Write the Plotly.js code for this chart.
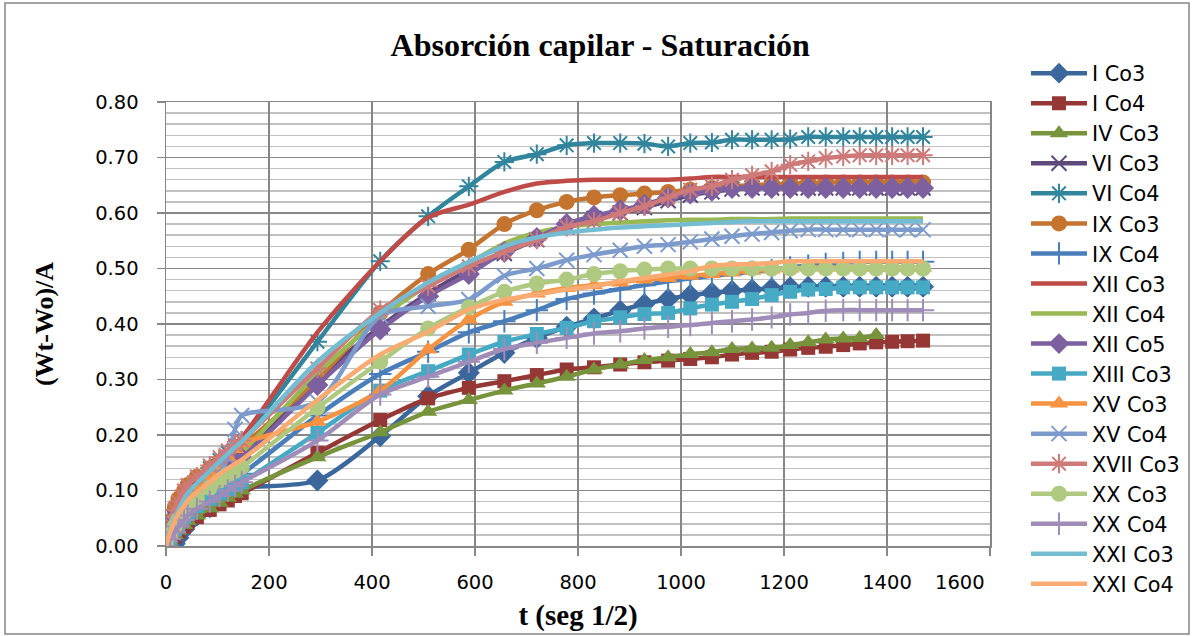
<!DOCTYPE html>
<html>
<head>
<meta charset="utf-8">
<script src="https://cdn.plot.ly/plotly-3.0.1.min.js"></script>
<style>
  html, body { margin: 0; padding: 0; background: #ffffff; }
  #chart { width: 1192px; height: 636px; }
</style>
</head>
<body>
<div id="chart"></div>
<script>
// t (seg 1/2): square root of elapsed seconds
const tSeg = [0, 8, 17, 24, 35, 42, 60, 85, 104, 120, 134, 147, 294, 416, 509, 588, 657, 720, 778, 831, 882, 929, 975, 1018, 1060, 1099, 1138, 1176, 1212, 1247, 1281, 1315, 1347, 1379, 1410, 1440, 1470];

const xTickVals = [0, 200, 400, 600, 800, 1000, 1200, 1400, 1600];
const xTickText = ["0", "200", "400", "600", "800", "1000", "1200", "1400", ""];
const lastXTickLabel = "1600";

const seriesNames = ["I Co3", "I Co4", "IV Co3", "VI Co3", "VI Co4", "IX Co3", "IX Co4", "XII Co3", "XII Co4", "XII Co5", "XIII Co3", "XV Co3", "XV Co4", "XVII Co3", "XX Co3", "XX Co4", "XXI Co3", "XXI Co4"];

const I_Co3 = [0, 0, 0.004, 0.015, 0.03, 0.04, 0.055, 0.07, 0.082, 0.09, 0.097, 0.104, 0.118, 0.198, 0.27, 0.312, 0.348, 0.375, 0.395, 0.41, 0.424, 0.436, 0.445, 0.452, 0.456, 0.46, 0.462, 0.464, 0.466, 0.467, 0.467, 0.467, 0.467, 0.467, 0.467, 0.467, 0.467];
const I_Co4 = [0, 0.005, 0.017, 0.025, 0.035, 0.042, 0.052, 0.065, 0.075, 0.082, 0.09, 0.095, 0.168, 0.227, 0.266, 0.285, 0.297, 0.308, 0.318, 0.322, 0.327, 0.331, 0.334, 0.337, 0.34, 0.345, 0.348, 0.35, 0.354, 0.357, 0.359, 0.362, 0.365, 0.367, 0.368, 0.369, 0.37];
const IV_Co3 = [0, 0.008, 0.02, 0.028, 0.038, 0.045, 0.055, 0.068, 0.078, 0.087, 0.094, 0.1, 0.16, 0.205, 0.242, 0.263, 0.28, 0.293, 0.305, 0.318, 0.327, 0.335, 0.34, 0.346, 0.349, 0.355, 0.356, 0.357, 0.362, 0.367, 0.372, 0.374, 0.375, 0.38, null, null, null];
const VI_Co3 = [0, 0.03, 0.05, 0.06, 0.075, 0.085, 0.1, 0.12, 0.135, 0.145, 0.155, 0.162, 0.30, 0.395, 0.455, 0.497, 0.527, 0.552, 0.575, 0.59, 0.60, 0.61, 0.622, 0.632, 0.638, 0.643, 0.645, 0.645, 0.645, 0.645, 0.645, 0.645, 0.645, 0.645, 0.645, 0.645, 0.645];
const VI_Co4 = [0, 0.03, 0.055, 0.07, 0.09, 0.1, 0.12, 0.14, 0.155, 0.168, 0.18, 0.19, 0.368, 0.513, 0.594, 0.648, 0.692, 0.706, 0.722, 0.726, 0.726, 0.725, 0.72, 0.726, 0.727, 0.732, 0.732, 0.732, 0.733, 0.737, 0.737, 0.737, 0.737, 0.737, 0.737, 0.737, 0.737];
const IX_Co3 = [0, 0.045, 0.07, 0.085, 0.1, 0.11, 0.125, 0.14, 0.152, 0.162, 0.172, 0.18, 0.30, 0.42, 0.49, 0.534, 0.58, 0.605, 0.62, 0.628, 0.632, 0.635, 0.638, 0.642, 0.645, 0.648, 0.65, 0.652, 0.653, 0.654, 0.655, 0.655, 0.655, 0.655, 0.655, 0.655, 0.655];
const IX_Co4 = [0, 0.02, 0.035, 0.045, 0.058, 0.066, 0.08, 0.095, 0.108, 0.118, 0.125, 0.13, 0.235, 0.31, 0.35, 0.385, 0.405, 0.425, 0.445, 0.455, 0.463, 0.47, 0.477, 0.482, 0.487, 0.49, 0.494, 0.497, 0.502, 0.505, 0.508, 0.51, 0.512, 0.512, 0.512, 0.512, 0.512];
const XII_Co3 = [0, 0.03, 0.055, 0.07, 0.09, 0.1, 0.12, 0.14, 0.158, 0.172, 0.185, 0.195, 0.385, 0.513, 0.592, 0.615, 0.638, 0.653, 0.658, 0.66, 0.66, 0.66, 0.66, 0.662, 0.665, 0.665, 0.665, 0.665, 0.665, 0.665, 0.665, 0.665, 0.665, 0.665, 0.665, 0.665, 0.665];
const XII_Co4 = [0, 0.025, 0.045, 0.058, 0.075, 0.085, 0.1, 0.12, 0.135, 0.148, 0.158, 0.168, 0.31, 0.41, 0.47, 0.51, 0.545, 0.565, 0.575, 0.58, 0.583, 0.585, 0.587, 0.588, 0.588, 0.589, 0.589, 0.589, 0.59, 0.59, 0.59, 0.59, 0.59, 0.59, 0.59, 0.59, 0.59];
const XII_Co5 = [0, 0.025, 0.045, 0.058, 0.072, 0.082, 0.097, 0.115, 0.13, 0.14, 0.15, 0.158, 0.29, 0.39, 0.45, 0.49, 0.53, 0.555, 0.58, 0.595, 0.605, 0.615, 0.628, 0.635, 0.64, 0.645, 0.645, 0.645, 0.645, 0.645, 0.645, 0.645, 0.645, 0.645, 0.645, 0.645, 0.645];
const XIII_Co3 = [0, 0.015, 0.03, 0.04, 0.052, 0.06, 0.072, 0.085, 0.095, 0.103, 0.11, 0.115, 0.204, 0.28, 0.315, 0.345, 0.368, 0.382, 0.393, 0.405, 0.412, 0.418, 0.42, 0.428, 0.435, 0.44, 0.445, 0.452, 0.458, 0.462, 0.463, 0.466, 0.466, 0.466, 0.466, 0.466, 0.466];
const XV_Co3 = [0, 0.02, 0.04, 0.055, 0.07, 0.08, 0.1, 0.125, 0.145, 0.16, 0.175, 0.185, 0.224, 0.28, 0.354, 0.408, 0.44, 0.455, 0.465, 0.47, 0.475, 0.48, 0.483, 0.487, 0.49, 0.493, 0.496, 0.498, 0.50, 0.502, 0.502, 0.502, 0.502, 0.502, 0.502, 0.502, 0.502];
const XV_Co4 = [0, 0.02, 0.04, 0.05, 0.065, 0.075, 0.09, 0.11, 0.13, 0.16, 0.21, 0.235, 0.26, 0.415, 0.432, 0.444, 0.487, 0.50, 0.515, 0.525, 0.533, 0.54, 0.543, 0.548, 0.553, 0.558, 0.562, 0.565, 0.568, 0.57, 0.57, 0.57, 0.57, 0.57, 0.57, 0.57, 0.57];
const XVII_Co3 = [0, 0.04, 0.065, 0.08, 0.1, 0.11, 0.125, 0.145, 0.16, 0.172, 0.182, 0.19, 0.32, 0.425, 0.468, 0.504, 0.53, 0.552, 0.575, 0.585, 0.60, 0.612, 0.628, 0.642, 0.648, 0.66, 0.668, 0.675, 0.687, 0.693, 0.699, 0.702, 0.704, 0.704, 0.704, 0.704, 0.704];
const XX_Co3 = [0, 0.02, 0.035, 0.047, 0.06, 0.07, 0.085, 0.105, 0.118, 0.128, 0.135, 0.142, 0.249, 0.332, 0.392, 0.43, 0.458, 0.473, 0.48, 0.49, 0.495, 0.498, 0.50, 0.50, 0.50, 0.50, 0.50, 0.50, 0.50, 0.50, 0.50, 0.50, 0.50, 0.50, 0.50, 0.50, 0.50];
const XX_Co4 = [0, 0.012, 0.025, 0.035, 0.047, 0.055, 0.067, 0.08, 0.09, 0.1, 0.108, 0.115, 0.19, 0.273, 0.305, 0.332, 0.355, 0.366, 0.375, 0.383, 0.387, 0.392, 0.395, 0.398, 0.402, 0.405, 0.408, 0.412, 0.417, 0.42, 0.424, 0.425, 0.425, 0.425, 0.425, 0.425, 0.425];
const XXI_Co3 = [0, 0.03, 0.05, 0.065, 0.085, 0.095, 0.113, 0.135, 0.152, 0.166, 0.178, 0.188, 0.332, 0.42, 0.475, 0.512, 0.54, 0.556, 0.565, 0.57, 0.574, 0.576, 0.578, 0.58, 0.582, 0.584, 0.585, 0.585, 0.585, 0.585, 0.585, 0.585, 0.585, 0.585, 0.585, 0.585, 0.585];
const XXI_Co4 = [0, 0.025, 0.045, 0.058, 0.072, 0.082, 0.097, 0.115, 0.13, 0.14, 0.148, 0.155, 0.263, 0.345, 0.386, 0.426, 0.444, 0.453, 0.462, 0.468, 0.477, 0.483, 0.489, 0.495, 0.505, 0.507, 0.508, 0.51, 0.513, 0.513, 0.513, 0.513, 0.513, 0.513, 0.513, 0.513, 0.513];

const seriesValues = [I_Co3, I_Co4, IV_Co3, VI_Co3, VI_Co4, IX_Co3, IX_Co4, XII_Co3, XII_Co4, XII_Co5, XIII_Co3, XV_Co3, XV_Co4, XVII_Co3, XX_Co3, XX_Co4, XXI_Co3, XXI_Co4];

const seriesColors = ["#3C679C", "#953735", "#77933C", "#5F497A", "#31859C", "#C5742F", "#4A7EBB", "#BE4B48", "#98B954", "#7D60A0", "#46AAC5", "#F69240", "#7C9BCC", "#CE7A78", "#AFCA80", "#A08CB8", "#73BCD2", "#F9AB72"];
const seriesSymbols = ["diamond", "square", "triangle-up", "x-thin-open", "asterisk-open", "circle", "cross-thin-open", null, null, "diamond", "square", "triangle-up", "x-thin-open", "asterisk-open", "circle", "cross-thin-open", null, null];
const symbolSizes = {"diamond": 17, "square": 14, "triangle-up": 16, "x-thin-open": 15, "asterisk-open": 16, "circle": 16, "cross-thin-open": 16};

const traces = seriesNames.map((name, i) => {
  const sym = seriesSymbols[i];
  const col = seriesColors[i];
  const tr = {
    type: "scatter",
    x: tSeg,
    y: seriesValues[i],
    name: name,
    legendgroup: "g" + i,
    mode: sym ? "lines+markers" : "lines",
    line: {color: col, width: 4.5, shape: "spline", smoothing: 0.8},
    connectgaps: false,
    hoverinfo: "x+y+name"
  };
  if (sym) {
    const thin = sym.indexOf("-open") >= 0;
    tr.marker = {
      symbol: sym,
      size: symbolSizes[sym],
      color: col,
      line: {color: col, width: thin ? 2 : 0}
    };
  }
  return tr;
});

const font = "'DejaVu Sans', 'Open Sans', sans-serif";
const serif = "'Liberation Serif', 'DejaVu Serif', serif";

const layout = {
  width: 1192,
  height: 636,
  margin: {l: 166, r: 202, t: 102, b: 90, pad: 0, autoexpand: false},
  paper_bgcolor: "#ffffff",
  plot_bgcolor: "#ffffff",
  showlegend: true,
  title: {
    text: "<b>Absorción capilar - Saturación</b>",
    font: {family: serif, size: 32, color: "#000000"},
    x: 0.5035, xanchor: "center", xref: "container",
    y: 0.93, yanchor: "middle", yref: "container"
  },
  xaxis: {
    range: [0, 1600],
    tickmode: "array", tickvals: xTickVals, ticktext: xTickText,
    automargin: false,
    showgrid: true, gridcolor: "#878787", gridwidth: 1.5,
    zeroline: false,
    showline: true, linecolor: "#878787", linewidth: 1.5, mirror: true,
    ticks: "outside", ticklen: 8, tickcolor: "#878787", tickwidth: 1.5,
    ticklabelstandoff: 10,
    tickfont: {family: font, size: 19.5, color: "#000000"},
    title: {text: "<b>t (seg 1/2)</b>", font: {family: serif, size: 29, color: "#000000"}, standoff: 12}
  },
  yaxis: {
    range: [0, 0.8],
    tick0: 0, dtick: 0.1, tickformat: ".2f",
    automargin: false,
    showgrid: true, gridcolor: "#878787", gridwidth: 1.5,
    minor: {dtick: 0.02, showgrid: true, gridcolor: "#C0C0C0", gridwidth: 1.5, ticks: ""},
    zeroline: false,
    showline: true, linecolor: "#878787", linewidth: 1.5, mirror: true,
    ticks: "outside", ticklen: 8, tickcolor: "#878787", tickwidth: 1.5,
    ticklabelstandoff: 14,
    tickfont: {family: font, size: 19.5, color: "#000000"},
    title: {text: "<b>(Wt-Wo)/A</b>", font: {family: serif, size: 26, color: "#000000"}, standoff: 34}
  },
  legend: {
    x: (1026 - 166) / 824, xanchor: "left",
    y: 1.110, yanchor: "top",
    maxheight: 620,
    font: {family: font, size: 20.8, color: "#000000"},
    bgcolor: "rgba(255,255,255,0)",
    borderwidth: 0,
    itemwidth: 56,
    tracegroupgap: 0,
    traceorder: "normal"
  },
  annotations: [{
    text: lastXTickLabel, xref: "x", yref: "paper",
    x: 1600, y: 0, xanchor: "right", yanchor: "top",
    xshift: -3, yshift: -23, showarrow: false,
    font: {family: font, size: 19.5, color: "#000000"}
  }],
  shapes: [{
    type: "rect", xref: "paper", yref: "paper",
    x0: (5 - 166) / 824, x1: (1189 - 166) / 824,
    y0: (546 - 634) / 444, y1: (546 - 3) / 444,
    line: {color: "#878787", width: 1.5},
    fillcolor: "rgba(0,0,0,0)", layer: "below"
  }]
};

Plotly.newPlot("chart", traces, layout, {staticPlot: true, displayModeBar: false});
</script>
</body>
</html>
